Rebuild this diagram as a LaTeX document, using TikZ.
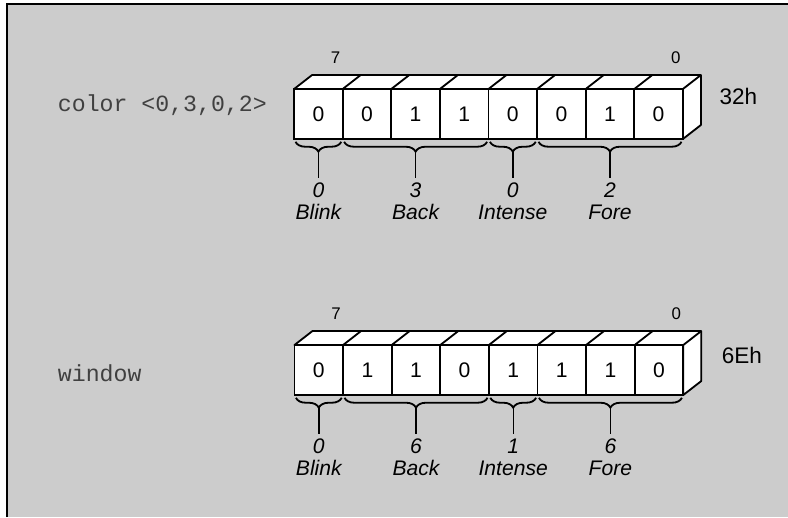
\documentclass[tikz,border=0pt]{standalone}
\usepackage{fontspec}
\setmainfont{Liberation Sans}
\setmonofont{Liberation Mono}
\usetikzlibrary{positioning,decorations.pathreplacing}
\begin{document}
\begin{tikzpicture}[
  bitbox/.style={rectangle, draw, fill=white, line width=1.3pt, minimum width=1.215cm, minimum height=1.25cm, inner sep=0pt, outer sep=0pt, font=\fontsize{15}{17}\selectfont},
  bitpos/.style={font=\fontsize{12}{14}\selectfont},
  hexval/.style={anchor=west, font=\fontsize{16}{19}\selectfont},
  codelbl/.style={anchor=west, text=black!75, font=\ttfamily\fontsize{16.5}{19}\selectfont},
  fieldlbl/.style={align=center, font=\itshape\fontsize{15}{15.6}\selectfont},
  fieldbrace/.style={decorate, decoration={brace, mirror, amplitude=7pt}, line width=1.3pt},
  stem/.style={line width=1pt},
  node distance=1.215cm
]
\useasboundingbox (0,0) rectangle (19.7,12.925);
\fill[black!20] (0.175,0) rectangle (19.7,12.825);
\draw[line width=2pt] (0.175,0) -- (0.175,12.825) -- (19.7,12.825);

% color attribute
\node[codelbl] (ccode) at (1.325,10.3) {color <0,3,0,2>};
\node[bitbox] (c1) at (7.96,10.075) {0};
\node[bitbox, right of=c1] (c2) {0};
\node[bitbox, right of=c2] (c3) {1};
\node[bitbox, right of=c3] (c4) {1};
\node[bitbox, right of=c4] (c5) {0};
\node[bitbox, right of=c5] (c6) {0};
\node[bitbox, right of=c6] (c7) {1};
\node[bitbox, right of=c7] (c8) {0};
\draw[line width=1.3pt, line join=round, fill=white] (c1.north west) -- ++(0.45,0.35) -- ([shift={(0.45,0.35)}]c8.north east) -- ([shift={(0.45,0.35)}]c8.south east) -- (c8.south east) -- (c8.north east) -- cycle;
\draw[line width=1.3pt] (c2.north west) -- ++(0.45,0.35) (c3.north west) -- ++(0.45,0.35) (c4.north west) -- ++(0.45,0.35) (c5.north west) -- ++(0.45,0.35) (c6.north west) -- ++(0.45,0.35) (c7.north west) -- ++(0.45,0.35) (c8.north west) -- ++(0.45,0.35) (c8.north east) -- ++(0.45,0.35);
\node[bitpos] (chi) at ([shift={(0.43,0.78)}]c1.north) {7};
\node[bitpos] (clo) at ([shift={(0.43,0.78)}]c8.north) {0};
\node[hexval] (chex) at ([xshift=1.4cm, yshift=0.43cm]c8.center) {32h};

% color fields
\draw[fieldbrace] ([xshift=1pt,yshift=-2pt]c1.south west) -- ([xshift=-1pt,yshift=-2pt]c1.south east) coordinate[midway, below=7pt] (ct1);
\draw[fieldbrace] ([xshift=1pt,yshift=-2pt]c2.south west) -- ([xshift=-1pt,yshift=-2pt]c4.south east) coordinate[midway, below=7pt] (ct2);
\draw[fieldbrace] ([xshift=1pt,yshift=-2pt]c5.south west) -- ([xshift=-1pt,yshift=-2pt]c5.south east) coordinate[midway, below=7pt] (ct3);
\draw[fieldbrace] ([xshift=1pt,yshift=-2pt]c6.south west) -- ([xshift=-1pt,yshift=-2pt]c8.south east) coordinate[midway, below=7pt] (ct4);
\node[fieldlbl, below of=c1, node distance=2.175cm] (cblink) {0\\Blink};
\node[fieldlbl, below of=c3, node distance=2.175cm] (cback) {3\\Back};
\node[fieldlbl, below of=c5, node distance=2.175cm] (cint) {0\\Intense};
\node[fieldlbl, below of=c7, node distance=2.175cm] (cfore) {2\\Fore};
\draw[stem] (cblink) -- (ct1);
\draw[stem] (cback) -- (ct2);
\draw[stem] (cint) -- (ct3);
\draw[stem] (cfore) -- (ct4);

% window attribute
\node[codelbl] (wcode) at (1.325,3.6) {window};
\node[bitbox] (w1) at (7.97,3.675) {0};
\node[bitbox, right of=w1] (w2) {1};
\node[bitbox, right of=w2] (w3) {1};
\node[bitbox, right of=w3] (w4) {0};
\node[bitbox, right of=w4] (w5) {1};
\node[bitbox, right of=w5] (w6) {1};
\node[bitbox, right of=w6] (w7) {1};
\node[bitbox, right of=w7] (w8) {0};
\draw[line width=1.3pt, line join=round, fill=white] (w1.north west) -- ++(0.45,0.35) -- ([shift={(0.45,0.35)}]w8.north east) -- ([shift={(0.45,0.35)}]w8.south east) -- (w8.south east) -- (w8.north east) -- cycle;
\draw[line width=1.3pt] (w2.north west) -- ++(0.45,0.35) (w3.north west) -- ++(0.45,0.35) (w4.north west) -- ++(0.45,0.35) (w5.north west) -- ++(0.45,0.35) (w6.north west) -- ++(0.45,0.35) (w7.north west) -- ++(0.45,0.35) (w8.north west) -- ++(0.45,0.35) (w8.north east) -- ++(0.45,0.35);
\node[bitpos] (whi) at ([shift={(0.43,0.78)}]w1.north) {7};
\node[bitpos] (wlo) at ([shift={(0.43,0.78)}]w8.north) {0};
\node[hexval] (whex) at ([xshift=1.45cm, yshift=0.375cm]w8.center) {6Eh};

% window fields
\draw[fieldbrace] ([xshift=1pt,yshift=-2pt]w1.south west) -- ([xshift=-1pt,yshift=-2pt]w1.south east) coordinate[midway, below=7pt] (wt1);
\draw[fieldbrace] ([xshift=1pt,yshift=-2pt]w2.south west) -- ([xshift=-1pt,yshift=-2pt]w4.south east) coordinate[midway, below=7pt] (wt2);
\draw[fieldbrace] ([xshift=1pt,yshift=-2pt]w5.south west) -- ([xshift=-1pt,yshift=-2pt]w5.south east) coordinate[midway, below=7pt] (wt3);
\draw[fieldbrace] ([xshift=1pt,yshift=-2pt]w6.south west) -- ([xshift=-1pt,yshift=-2pt]w8.south east) coordinate[midway, below=7pt] (wt4);
\node[fieldlbl, below of=w1, node distance=2.175cm] (wblink) {0\\Blink};
\node[fieldlbl, below of=w3, node distance=2.175cm] (wback) {6\\Back};
\node[fieldlbl, below of=w5, node distance=2.175cm] (wint) {1\\Intense};
\node[fieldlbl, below of=w7, node distance=2.175cm] (wfore) {6\\Fore};
\draw[stem] (wblink) -- (wt1);
\draw[stem] (wback) -- (wt2);
\draw[stem] (wint) -- (wt3);
\draw[stem] (wfore) -- (wt4);
\end{tikzpicture}
\end{document}
